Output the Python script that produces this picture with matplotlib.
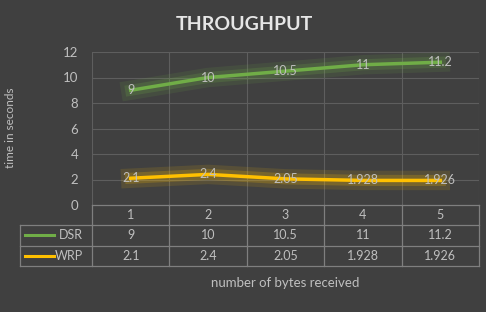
import matplotlib
matplotlib.use("Agg")
import matplotlib.pyplot as plt
import matplotlib.patheffects as pe
import matplotlib.transforms as mtrans

categories = ["1", "2", "3", "4", "5"]
dsr = [9, 10, 10.5, 11, 11.2]
wrp = [2.1, 2.4, 2.05, 1.928, 1.926]
dsr_labels = ["9", "10", "10.5", "11", "11.2"]
wrp_labels = ["2.1", "2.4", "2.05", "1.928", "1.926"]
series_names = ["DSR", "WRP"]
yticks = [0, 2, 4, 6, 8, 10, 12]

BG = "#404040"
TXT = "#bfbfbf"
GRID = "#5e5e5e"
TBL = "#7f7f7f"
GREEN = "#70ad47"
YELLOW = "#ffc000"

plt.rcParams['font.family'] = ['Lato', 'DejaVu Sans']

fig = plt.figure(figsize=(4.86, 3.12), dpi=100, facecolor=BG)
W, H = 486, 312
ax = fig.add_axes([92 / W, 1 - 205 / H, (479 - 92) / W, (205 - 52) / H], facecolor=BG)

n = len(categories)
x = list(range(1, n + 1))
ax.set_xlim(0.5, n + 0.5)
ax.set_ylim(0, 12)
ax.set_yticks(yticks)
ax.set_yticklabels([str(t) for t in yticks], color=TXT, fontsize=9.5)
ax.set_xticks([])
ax.tick_params(axis='y', length=0, pad=10)
for s in ax.spines.values():
    s.set_visible(False)
for t in yticks[1:]:
    ax.axhline(t, color=GRID, lw=0.8, zorder=0)
for b in [0.5 + i for i in range(n + 1)]:
    ax.axvline(b, color=GRID, lw=0.8, zorder=0)

series = [(dsr, GREEN, dsr_labels), (wrp, YELLOW, wrp_labels)]
for vals, col, labs in series:
    ax.plot(x, vals, color=col, lw=2.5, zorder=3,
            path_effects=[pe.Stroke(linewidth=14, foreground=col, alpha=0.12),
                          pe.Stroke(linewidth=8, foreground=col, alpha=0.2),
                          pe.Normal()])
    for xi, v, l in zip(x, vals, labs):
        ax.text(xi, v, l, ha='center', va='center', color=TXT, fontsize=9, zorder=4)

# data table below the axis: x in data units, y in axes units
tr = mtrans.blended_transform_factory(ax.transData, ax.transAxes)
row_h = 20.3 / 153
col_w_px = 387 / n
lab_left = 0.5 - 72 / col_w_px
x0, x1 = 0.5, n + 0.5
kw = dict(transform=tr, clip_on=False, color=TBL, lw=0.9, zorder=5)
ax.plot([x0, x1], [0, 0], **kw)
for r in range(1, len(series) + 2):
    ax.plot([lab_left, x1], [-r * row_h, -r * row_h], **kw)
for i in range(n + 1):
    ax.plot([0.5 + i, 0.5 + i], [0, -(len(series) + 1) * row_h], **kw)
ax.plot([lab_left, lab_left], [-row_h, -(len(series) + 1) * row_h], **kw)
for xi, c in zip(x, categories):
    ax.text(xi, -0.5 * row_h, c, transform=tr, ha='center', va='center',
            color=TXT, fontsize=9)
for r, ((vals, col, labs), name) in enumerate(zip(series, series_names), start=1):
    yc = -(r + 0.5) * row_h
    for xi, l in zip(x, labs):
        ax.text(xi, yc, l, transform=tr, ha='center', va='center', color=TXT, fontsize=9)
    ax.text(0.5 - 0.12, yc, name, transform=tr, ha='right', va='center',
            color=TXT, fontsize=9)
    ax.plot([lab_left + 0.06, lab_left + 0.44], [yc, yc], transform=tr,
            clip_on=False, color=col, lw=2.2, zorder=5)

fig.text(244 / W, 1 - 25 / H, "THROUGHPUT", ha='center', va='center',
         color="#e6e6e6", fontsize=14, fontweight='bold')
fig.text(285 / W, 1 - 283 / H, "number of bytes received", ha='center',
         va='center', color=TXT, fontsize=9.5)
fig.text(11 / W, 1 - 128 / H, "time in seconds", rotation=90, ha='center',
         va='center', color=TXT, fontsize=8.5)

fig.savefig("out.png", dpi=100, facecolor=BG)
